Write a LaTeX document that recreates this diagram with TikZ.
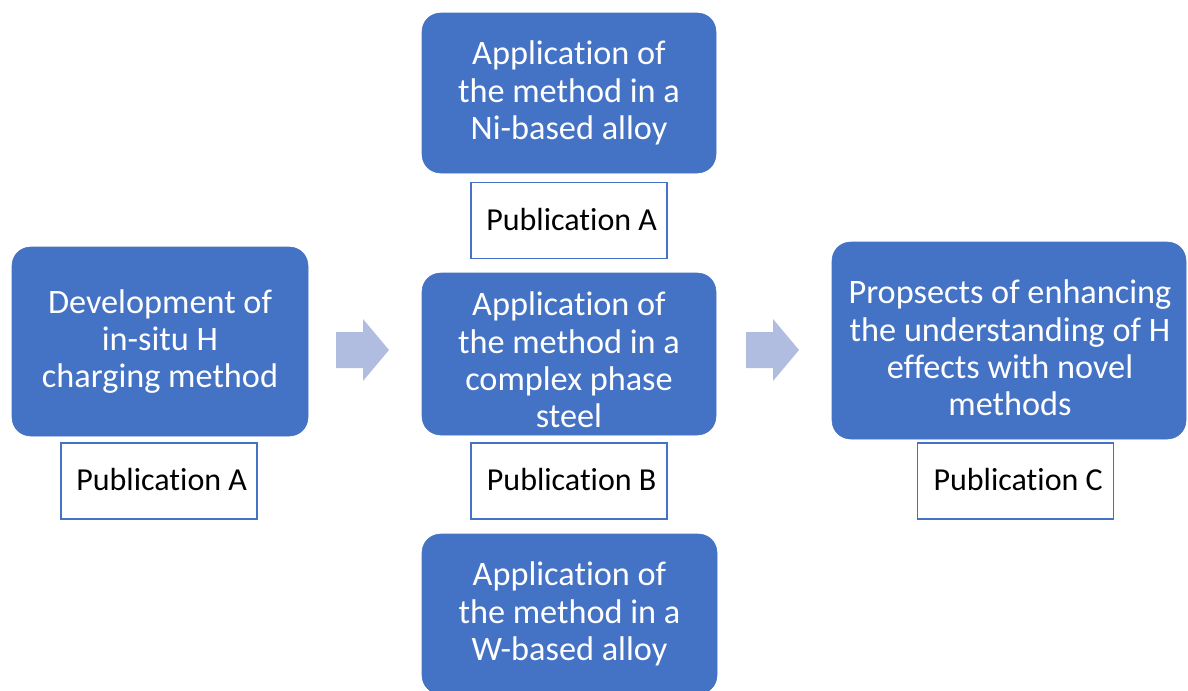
\documentclass[tikz,border=0pt]{standalone}
\usepackage{fontspec}
\setmainfont{Carlito}[Ligatures=NoCommon]
\definecolor{boxblue}{RGB}{68,114,196}
\definecolor{arrowc}{RGB}{176,189,224}
\tikzset{
  bluebox/.style={draw=boxblue, fill=boxblue, rounded corners=14pt, text=white, align=center,
    font={\fontsize{25.7}{28}\selectfont}, inner sep=0pt},
  boxtext/.style={text=white, align=center, font={\fontsize{25.7}{28}\selectfont}, inner sep=0pt},
  pubbox/.style={draw=boxblue, line width=0.8pt, fill=white, text=black, inner sep=0pt,
    minimum width=147pt, minimum height=57pt, font={\fontsize{24}{28}\selectfont}},
  blockarrow/.style={fill=arrowc, draw=none}
}
\begin{document}
\begin{tikzpicture}[x=0.75pt,y=-0.75pt]
\useasboundingbox (0,0) rectangle (1188,690);
% main boxes
\node[bluebox, minimum width=222pt, minimum height=141.75pt] (dev) at (160,341.5)
  {Development of\\in-situ H\\charging method};
\node[bluebox, minimum width=220.5pt, minimum height=120pt] (ni) at (569,93)
  {\rule{0pt}{1.5pt}Application of\\the method in a\\Ni-based alloy};
\node[bluebox, minimum width=220.5pt, minimum height=121.5pt] (cp) at (569,354) {};
\node[boxtext] (cpt) at (569,360)
  {Application of\\the method in a\\complex phase\\steel};
\node[bluebox, minimum width=221.25pt, minimum height=120pt] (w) at (569.5,614)
  {Application of\\the method in a\\W-based alloy};
\node[bluebox, minimum width=265.5pt, minimum height=147.75pt] (pr) at (1009,340.5) {};
\node[boxtext] (prt) at (1010,348)
  {Propsects of enhancing\\the understanding of H\\effects with novel\\methods};
% publication boxes
\node[pubbox] (pa1) at (159,481) {\raisebox{2pt}{\hspace{4pt}Publication A}};
\node[pubbox] (pa2) at (569,220.5) {\raisebox{2pt}{\hspace{4pt}Publication A}};
\node[pubbox] (pb) at (569,481) {\raisebox{2pt}{\hspace{4pt}Publication B}};
\node[pubbox] (pc) at (1015.5,481) {\raisebox{2pt}{\hspace{4pt}Publication C}};
% block arrows
\coordinate (a1) at (336,350);
\coordinate (a2) at (746,350);
\fill[blockarrow] (a1) ++(0,-18) -- ++(27,0) -- ++(0,-13) -- ++(26,31) -- ++(-26,31) -- ++(0,-13) -- ++(-27,0) -- cycle;
\fill[blockarrow] (a2) ++(0,-18) -- ++(27,0) -- ++(0,-13) -- ++(26,31) -- ++(-26,31) -- ++(0,-13) -- ++(-27,0) -- cycle;
\end{tikzpicture}
\end{document}
